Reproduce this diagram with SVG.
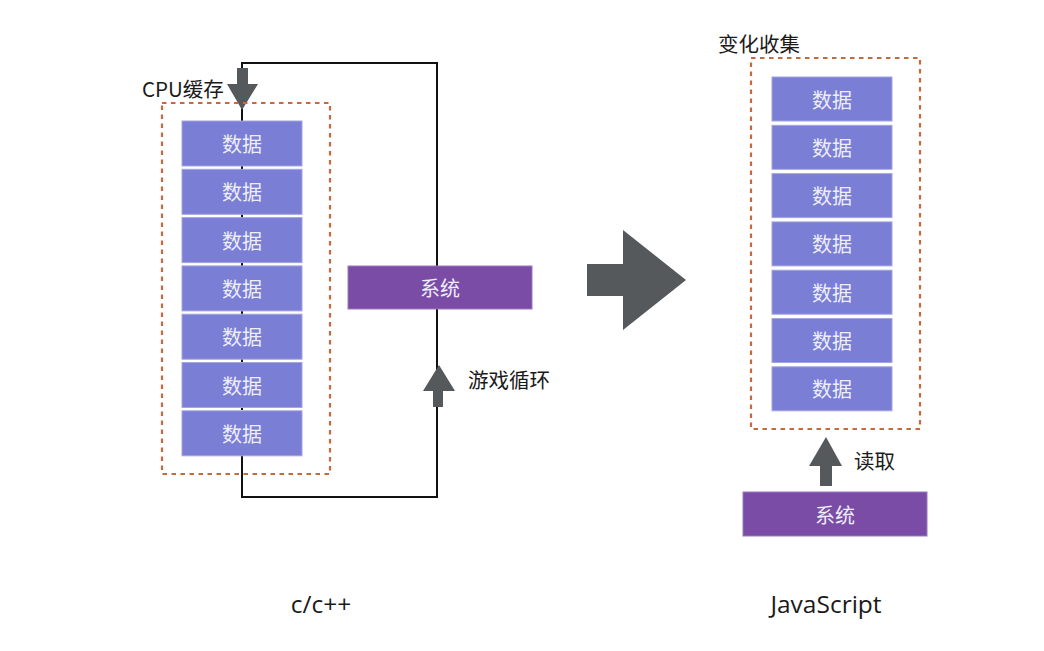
<svg xmlns="http://www.w3.org/2000/svg" width="1044" height="651" viewBox="0 0 1044 651">
<style>
.data rect{fill:#7A7ED4;stroke:#A3A6E2;stroke-width:1}
.data text,.sys text{fill:#EEEEFA;font-family:"Noto Sans CJK SC","Noto Sans",sans-serif;font-size:20px;text-anchor:middle;dominant-baseline:central}
.sys rect{fill:#7A4CA6;stroke:#9A78BE;stroke-width:1}
.group{fill:none;stroke:#C46A3E;stroke-width:2.2;stroke-dasharray:4.5 4.5}
.lbl{fill:#1a1a1a;font-family:"Noto Sans CJK SC","Noto Sans",sans-serif;font-size:20.5px}
.cap{fill:#1a1a1a;font-family:"Open Sans","Noto Sans",sans-serif;font-size:24.5px;text-anchor:middle}
.arrow{fill:#55595C}
.line{fill:none;stroke:#111;stroke-width:2}
</style>
<rect width="1044" height="651" fill="#fff"/>
<g id="connectors">
<polyline class="line" points="242,121 242,63 437,63 437,390"/>
<polyline class="line" points="437,405 437,497 242,497 242,455"/>
<line class="line" x1="242" y1="166" x2="242" y2="410"/>
<polygon class="arrow" points="237,68 248,68 248,84 258,84 242,110 227,84 237,84"/>
<polygon class="arrow" points="433,407 443,407 443,391 455,391 439,365 423,391 433,391"/>
<polygon class="arrow" points="820,486 832,486 832,466 842,466 826,437 809,466 820,466"/>
<polygon class="arrow" points="587,264 623,264 623,230 686,280 623,330 623,296 587,296"/>
</g>
<g id="cpu-cache">
<rect class="group" x="162" y="103" width="168" height="371"/>
<text class="lbl" x="142" y="97">CPU缓存</text>
</g>
<g id="left-data" class="data">
<rect x="182" y="121" width="120" height="45"/><text x="242" y="143.5">数据</text>
<rect x="182" y="169.3" width="120" height="45"/><text x="242" y="191.8">数据</text>
<rect x="182" y="217.6" width="120" height="45"/><text x="242" y="240.1">数据</text>
<rect x="182" y="265.9" width="120" height="45"/><text x="242" y="288.4">数据</text>
<rect x="182" y="314.2" width="120" height="45"/><text x="242" y="336.7">数据</text>
<rect x="182" y="362.5" width="120" height="45"/><text x="242" y="385">数据</text>
<rect x="182" y="410.8" width="120" height="45"/><text x="242" y="433.3">数据</text>
</g>
<g id="left-system" class="sys">
<rect x="348" y="266" width="184" height="43"/><text x="440" y="287.5">系统</text>
</g>
<g id="game-loop-label"><text class="lbl" x="468" y="388">游戏循环</text></g>
<g id="change-collect">
<rect class="group" x="751" y="58" width="169" height="371"/>
<text class="lbl" x="718" y="52">变化收集</text>
</g>
<g id="right-data" class="data">
<rect x="772" y="77" width="120" height="44"/><text x="832" y="99">数据</text>
<rect x="772" y="125.3" width="120" height="44"/><text x="832" y="147.3">数据</text>
<rect x="772" y="173.6" width="120" height="44"/><text x="832" y="195.6">数据</text>
<rect x="772" y="221.9" width="120" height="44"/><text x="832" y="243.9">数据</text>
<rect x="772" y="270.2" width="120" height="44"/><text x="832" y="292.2">数据</text>
<rect x="772" y="318.5" width="120" height="44"/><text x="832" y="340.5">数据</text>
<rect x="772" y="366.8" width="120" height="44"/><text x="832" y="388.8">数据</text>
</g>
<g id="read-label"><text class="lbl" x="854" y="469">读取</text></g>
<g id="right-system" class="sys">
<rect x="743" y="492" width="184" height="44"/><text x="835" y="514">系统</text>
</g>
<g id="captions">
<text class="cap" x="321" y="613">c/c++</text>
<text class="cap" x="826" y="613">JavaScript</text>
</g>
</svg>
